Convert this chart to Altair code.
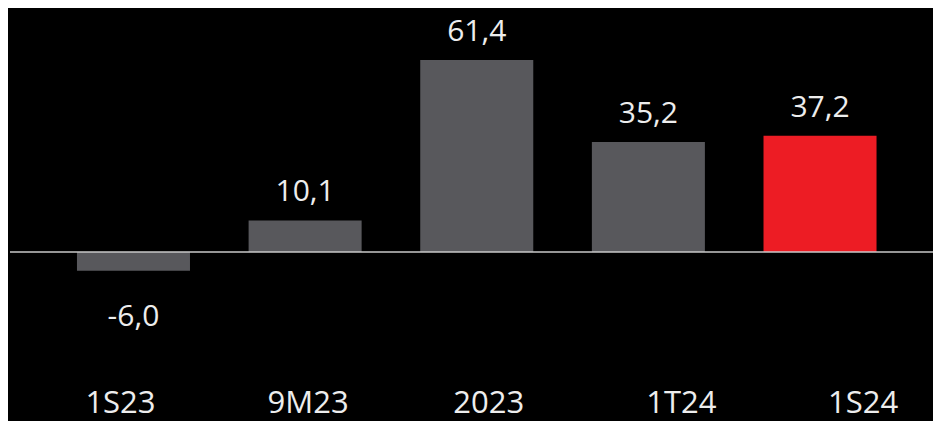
import altair as alt
import pandas as pd

categories = ["1S23", "9M23", "2023", "1T24", "1S24"]
values = [-6.0, 10.1, 61.4, 35.2, 37.2]
highlight = [False, False, False, False, True]
label_shift = [-13, 3, 12, 33, 43]

df = pd.DataFrame({
    "cat": categories,
    "val": values,
    "hl": highlight,
    "label": [f"{v:.1f}".replace(".", ",") for v in values],
})

FONT = "Open Sans"
TXT = "#ededed"
YDOM = [-30, 76.1]

offset_cond = {
    "condition": [{"test": f"datum.value == '{c}'", "value": s} for c, s in zip(categories, label_shift)],
    "value": 0,
}

x = alt.X("cat:N", sort=categories, title=None,
          scale=alt.Scale(paddingInner=0.3415, paddingOuter=0.329, range=[10.5, 923]),
          axis=alt.Axis(labelAngle=0, ticks=False, tickSize=0, domain=False,
                        labelFontSize=31, labelFont=FONT, labelColor=TXT,
                        labelPadding=67, labelBaseline="alphabetic", grid=False,
                        labelOffset=offset_cond))
y = alt.Y("val:Q", title=None, scale=alt.Scale(domain=YDOM, nice=False, zero=True),
          axis=None)

base = alt.Chart(df)

bars = base.mark_bar().encode(
    x=x, y=y, y2=alt.datum(0),
    color=alt.Color("hl:N", scale=alt.Scale(domain=[False, True], range=["#58585c", "#ed1c24"]), legend=None),
)

zero = alt.Chart(pd.DataFrame({"z": [0]})).mark_rule(color="#c8c8c8", strokeWidth=1.5).encode(
    y=alt.Y("z:Q", scale=alt.Scale(domain=YDOM, nice=False), axis=None)
)

pos_labels = base.transform_filter("datum.val >= 0").mark_text(
    font=FONT, fontSize=30, color=TXT, baseline="alphabetic", dy=-19
).encode(x=x, y=y, text="label:N")

neg_labels = base.transform_filter("datum.val < 0").mark_text(
    font=FONT, fontSize=30, color=TXT, baseline="alphabetic", dy=55
).encode(x=x, y=y, text="label:N")

chart = alt.layer(bars, zero, pos_labels, neg_labels).properties(
    width=923, height=331.8, background="#000000",
    padding={"left": 2, "top": 6, "right": 0, "bottom": 75.2},
    autosize=alt.AutoSizeParams(type="none"),
).configure_view(stroke=None)

chart.save("out.html", embed_options={"renderer": "svg", "actions": False})
